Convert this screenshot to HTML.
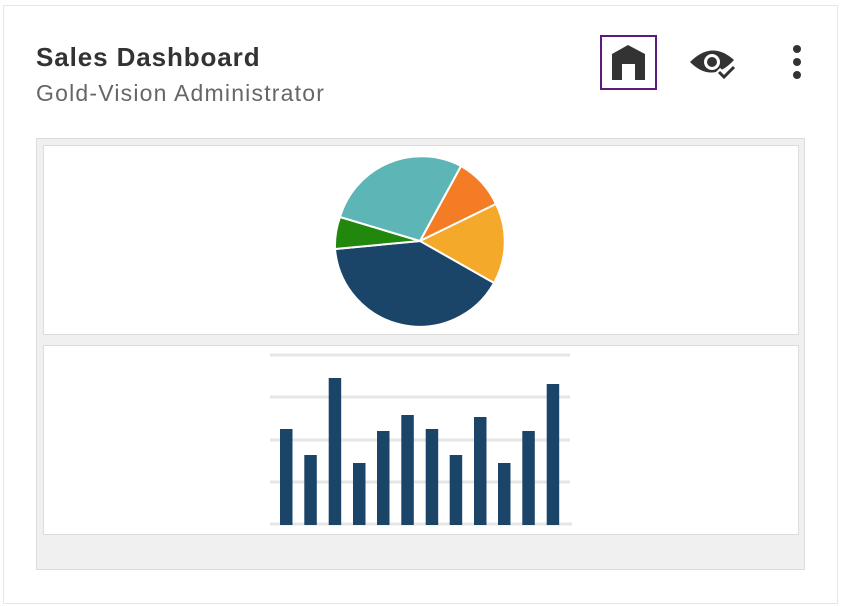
<!DOCTYPE html>
<html><head><style>
body{margin:0;background:#fff;font-family:"Liberation Sans",sans-serif;}
.card{position:absolute;left:3px;top:5px;width:833px;height:597px;border:1px solid #e6e6e6;background:#fff;}
.t{position:absolute;left:36px;top:42px;font-size:26px;font-weight:bold;color:#333;letter-spacing:0.9px;}
.s{position:absolute;left:36px;top:80px;font-size:23px;color:#666;letter-spacing:1.2px;}
.panel{position:absolute;left:36px;top:138px;width:767px;height:430px;background:#f0f0f0;border:1px solid #dcdcdc;}
.box{position:absolute;left:43px;width:754px;height:188px;background:#fff;border:1px solid #dcdcdc;}
</style></head><body>
<div class="card"></div>
<div class="t">Sales Dashboard</div>
<div class="s">Gold-Vision Administrator</div>
<div style="position:absolute;left:600px;top:35px;width:53px;height:51px;border:2px solid #5b1a7e;"></div>
<svg style="position:absolute;left:0;top:0" width="841" height="606">
<path d="M612 54 L628 45 L645 54 L645 80 L635 80 L635 64 L622 64 L622 80 L612 80 Z" fill="#333"/>
<path d="M690 62 Q712 40 734 60 Q712 84 690 62 Z" fill="#333"/>
<circle cx="712" cy="62" r="8" fill="#fff"/><circle cx="712" cy="62" r="5" fill="#333"/>
<path d="M718 70 l6 6 l12 -12" stroke="#fff" stroke-width="6" fill="none"/>
<path d="M719 72 l5 5 l10 -10" stroke="#333" stroke-width="3" fill="none"/>
<circle cx="797" cy="49" r="4" fill="#333"/><circle cx="797" cy="62" r="4" fill="#333"/><circle cx="797" cy="75" r="4" fill="#333"/>
</svg>
<div class="panel"></div>
<div class="box" style="top:145px"></div>
<div class="box" style="top:345px"></div>
<svg style="position:absolute;left:0;top:0" width="841" height="606">
<g stroke="#fff" stroke-width="2">
<path d="M420 241 L461 166 A85 85 0 0 1 496 204 Z" fill="#f47c24"/>
<path d="M420 241 L496 204 A85 85 0 0 1 494 283 Z" fill="#f4a92a"/>
<path d="M420 241 L494 283 A85 85 0 0 1 335 249 Z" fill="#1b4568"/>
<path d="M420 241 L335 249 A85 85 0 0 1 340 217 Z" fill="#22880d"/>
<path d="M420 241 L340 217 A85 85 0 0 1 461 166 Z" fill="#5db5b6"/>
</g>
<g stroke="#e6e6e6" stroke-width="3">
<line x1="270" y1="355" x2="570" y2="355"/><line x1="270" y1="397" x2="570" y2="397"/>
<line x1="270" y1="440" x2="570" y2="440"/><line x1="270" y1="482" x2="570" y2="482"/>
<line x1="270" y1="524" x2="572" y2="524"/>
</g>
<g fill="#1b4568">
<rect x="280" y="429" width="12.5" height="96"/>
<rect x="304.3" y="455" width="12.5" height="70"/>
<rect x="328.7" y="378" width="12.5" height="147"/>
<rect x="353" y="463" width="12.5" height="62"/>
<rect x="377" y="431" width="12.5" height="94"/>
<rect x="401.3" y="415" width="12.5" height="110"/>
<rect x="425.7" y="429" width="12.5" height="96"/>
<rect x="449.7" y="455" width="12.5" height="70"/>
<rect x="474" y="417" width="12.5" height="108"/>
<rect x="498" y="463" width="12.5" height="62"/>
<rect x="522.3" y="431" width="12.5" height="94"/>
<rect x="546.7" y="384" width="12.5" height="141"/>
</g>
</svg>
</body></html>
